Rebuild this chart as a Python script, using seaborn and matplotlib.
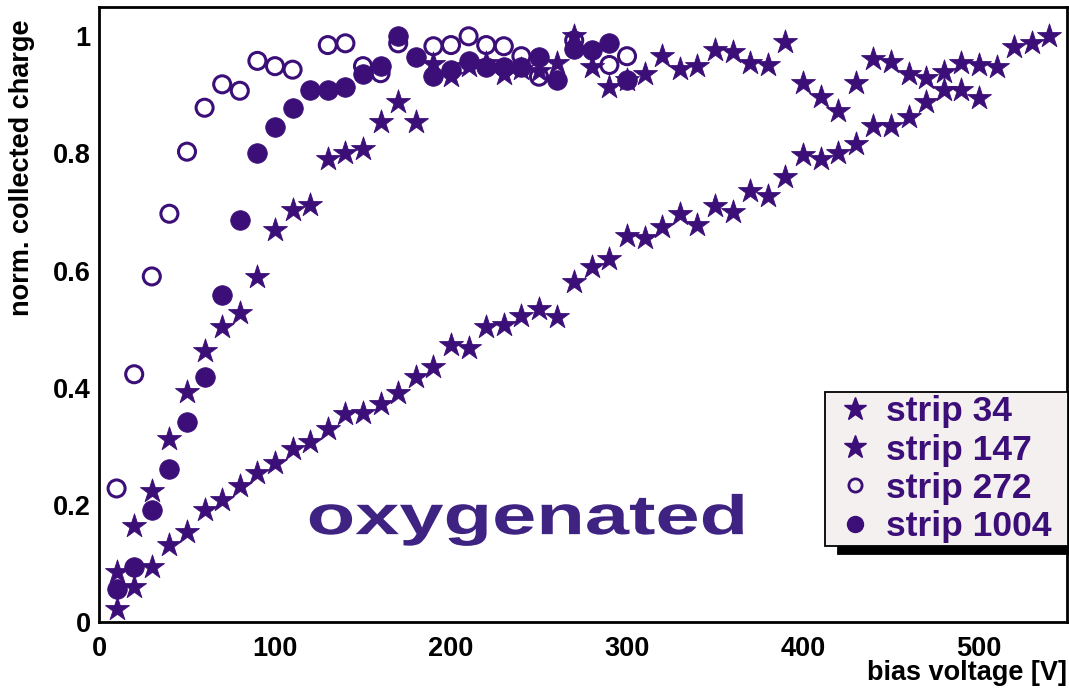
import numpy as np
import pandas as pd
import matplotlib
matplotlib.use("Agg")
import matplotlib.pyplot as plt
import matplotlib.patheffects as pe
import matplotlib.transforms as mtransforms
from matplotlib.lines import Line2D
from matplotlib.ticker import MultipleLocator
import seaborn as sns

# ---------------- data ----------------
v34 = [10, 20, 30, 40, 50, 60, 70, 80, 90, 100, 110, 120, 130, 140, 150, 160, 170, 180,
       190, 200, 210, 220, 230, 240, 250, 260, 270, 280, 290, 300, 310, 320, 330, 340,
       350, 360, 370, 380, 390, 400, 410, 420, 430, 440, 450, 460, 470, 480, 490, 500,
       510, 520, 530, 540]
q34 = [0.023, 0.060, 0.094, 0.131, 0.154, 0.191, 0.208, 0.232, 0.255, 0.271, 0.295, 0.308,
       0.329, 0.355, 0.356, 0.372, 0.391, 0.419, 0.435, 0.473, 0.467, 0.504, 0.507, 0.522,
       0.535, 0.521, 0.580, 0.606, 0.619, 0.659, 0.655, 0.675, 0.696, 0.677, 0.710, 0.700,
       0.736, 0.727, 0.760, 0.797, 0.790, 0.800, 0.816, 0.846, 0.846, 0.863, 0.888, 0.908,
       0.909, 0.895, 0.948, 0.982, 0.989, 1.000]

v147 = [10, 20, 30, 40, 50, 60, 70, 80, 90, 100, 110, 120, 130, 140, 150, 160, 170, 180,
        190, 200, 210, 220, 230, 240, 250, 260, 270, 280, 290, 300, 310, 320, 330, 340,
        350, 360, 370, 380, 390, 400, 410, 420, 430, 440, 450, 460, 470, 480, 490, 500]
q147 = [0.086, 0.164, 0.224, 0.313, 0.393, 0.463, 0.504, 0.527, 0.589, 0.669, 0.704, 0.712,
        0.790, 0.801, 0.807, 0.854, 0.888, 0.854, 0.953, 0.933, 0.950, 0.955, 0.936, 0.945,
        0.940, 0.955, 1.000, 0.948, 0.914, 0.925, 0.936, 0.967, 0.945, 0.950, 0.976, 0.973,
        0.954, 0.951, 0.990, 0.921, 0.897, 0.873, 0.920, 0.962, 0.956, 0.935, 0.928, 0.939,
        0.954, 0.951]

v272 = [10, 20, 30, 40, 50, 60, 70, 80, 90, 100, 110, 130, 140, 150, 160, 170, 190, 200,
        210, 220, 230, 240, 250, 270, 290, 300]
q272 = [0.228, 0.423, 0.590, 0.697, 0.803, 0.878, 0.918, 0.907, 0.958, 0.949, 0.943, 0.985,
        0.988, 0.949, 0.937, 0.988, 0.983, 0.985, 1.000, 0.985, 0.983, 0.966, 0.931, 0.993,
        0.951, 0.966]

v1004 = [10, 20, 30, 40, 50, 60, 70, 80, 90, 100, 110, 120, 130, 140, 150, 160, 170, 180,
         190, 200, 210, 220, 230, 240, 250, 260, 270, 280, 290, 300]
q1004 = [0.056, 0.094, 0.191, 0.261, 0.342, 0.418, 0.558, 0.686, 0.801, 0.845, 0.878, 0.909,
         0.908, 0.913, 0.936, 0.949, 1.000, 0.964, 0.933, 0.943, 0.958, 0.948, 0.947, 0.947,
         0.964, 0.926, 0.979, 0.977, 0.989, 0.925]

legend_labels = ["strip 34", "strip 147", "strip 272", "strip 1004"]
xtick_vals = [0, 100, 200, 300, 400, 500]
xtick_labels = ["0", "100", "200", "300", "400", "500"]
ytick_vals = [0, 0.2, 0.4, 0.6, 0.8, 1.0]
ytick_labels = ["0", "0.2", "0.4", "0.6", "0.8", "1"]
x_title = "bias voltage [V]"
y_title = "norm. collected charge"
annotation = "oxygenated"

# ---------------- style ----------------
sns.set_style("white")
plt.rcParams["font.family"] = ["Liberation Sans", "DejaVu Sans"]
plt.rcParams["font.weight"] = "bold"

PURPLE = "#3c0e78"
TEXTPURPLE = "#3f2382"

fig = plt.figure(figsize=(10.69, 6.9), dpi=100)
ax = fig.add_axes([99 / 1069, 68 / 690, 968 / 1069, 615 / 690])

df34 = pd.DataFrame({"v": v34, "q": q34})
df147 = pd.DataFrame({"v": v147, "q": q147})
df272 = pd.DataFrame({"v": v272, "q": q272})
df1004 = pd.DataFrame({"v": v1004, "q": q1004})

sns.scatterplot(data=df34, x="v", y="q", marker="*", s=330, color=PURPLE,
                edgecolor=PURPLE, linewidth=0.6, ax=ax, zorder=3, legend=False)
sns.scatterplot(data=df147, x="v", y="q", marker="*", s=330, color=PURPLE,
                edgecolor=PURPLE, linewidth=0.6, ax=ax, zorder=3, legend=False)
sns.scatterplot(data=df272, x="v", y="q", marker="o", s=150, color=PURPLE,
                facecolors="none", edgecolor=PURPLE, linewidth=2.2, ax=ax, zorder=3,
                legend=False)
sns.scatterplot(data=df1004, x="v", y="q", marker="o", s=200, color=PURPLE,
                edgecolor=PURPLE, linewidth=0.5, ax=ax, zorder=3, legend=False)

ax.set_xlim(0, 550)
ax.set_ylim(0, 1.05)

ax.set_xticks(xtick_vals)
ax.set_xticklabels(xtick_labels)
ax.set_yticks(ytick_vals)
ax.set_yticklabels(ytick_labels)
ax.xaxis.set_minor_locator(MultipleLocator(20))
ax.yaxis.set_minor_locator(MultipleLocator(0.05))

ax.tick_params(axis="x", which="major", direction="in", length=13, width=1.2,
               color="black", labelsize=19.5, pad=10, top=False)
ax.tick_params(axis="x", which="minor", direction="in", length=6.5, width=1.2,
               color="black", top=False)
ax.tick_params(axis="y", which="major", direction="in", length=21, width=2.4,
               color=PURPLE, labelsize=19.5, pad=6, right=False)
ax.tick_params(axis="y", which="minor", direction="in", length=10.5, width=2.4,
               color=PURPLE, right=False)
for lab in ax.get_xticklabels() + ax.get_yticklabels():
    lab.set_fontweight("bold")
    lab.set_color("black")

for sp in ax.spines.values():
    sp.set_visible(True)
    sp.set_color("black")
    sp.set_linewidth(2.0)

ax.set_xlabel(x_title, fontsize=19.5, fontweight="bold", color="black")
ax.xaxis.set_label_coords(1.0, -0.062)
ax.xaxis.label.set_horizontalalignment("right")
ax.xaxis.label.set_verticalalignment("top")

ax.set_ylabel(y_title, fontsize=19.5, fontweight="bold", color="black")
ax.yaxis.set_label_coords(-0.066, 0.979)
ax.yaxis.label.set_horizontalalignment("right")


class Stretch(pe.AbstractPathEffect):
    def __init__(self, sx):
        super().__init__()
        self.sx = sx

    def draw_path(self, renderer, gc, tpath, affine, rgbFace=None):
        renderer.draw_path(gc, tpath,
                           mtransforms.Affine2D().scale(self.sx, 1.0) + affine,
                           rgbFace)


ax.text(118, 0.150, annotation, ha="left", va="baseline", fontsize=40,
        fontweight="bold", color=TEXTPURPLE, zorder=4,
        path_effects=[Stretch(1.43)])

handles = [
    Line2D([], [], linestyle="none", marker="*", markersize=17, color=PURPLE),
    Line2D([], [], linestyle="none", marker="*", markersize=17, color=PURPLE),
    Line2D([], [], linestyle="none", marker="o", markersize=9.5, markerfacecolor="none",
           markeredgecolor=PURPLE, markeredgewidth=2),
    Line2D([], [], linestyle="none", marker="o", markersize=11.5, color=PURPLE),
]
leg = ax.legend(handles, legend_labels, loc="lower left",
                bbox_to_anchor=(0.75, 0.1236, 0.251, 0.25), mode="expand",
                frameon=True, fancybox=False, framealpha=1, facecolor="#f4f0f0",
                edgecolor="black", labelcolor=PURPLE,
                prop={"family": "Liberation Sans", "weight": "bold", "size": 25.5},
                handlelength=1.55, handletextpad=0.1, labelspacing=0.15, borderpad=0.08,
                borderaxespad=0,
                shadow={"ox": 9.5, "oy": -5.8, "color": "black", "alpha": 1, "shade": 0})
leg.get_frame().set_linewidth(1.3)
leg.set_zorder(10)

fig.savefig("out.png", dpi=100)
